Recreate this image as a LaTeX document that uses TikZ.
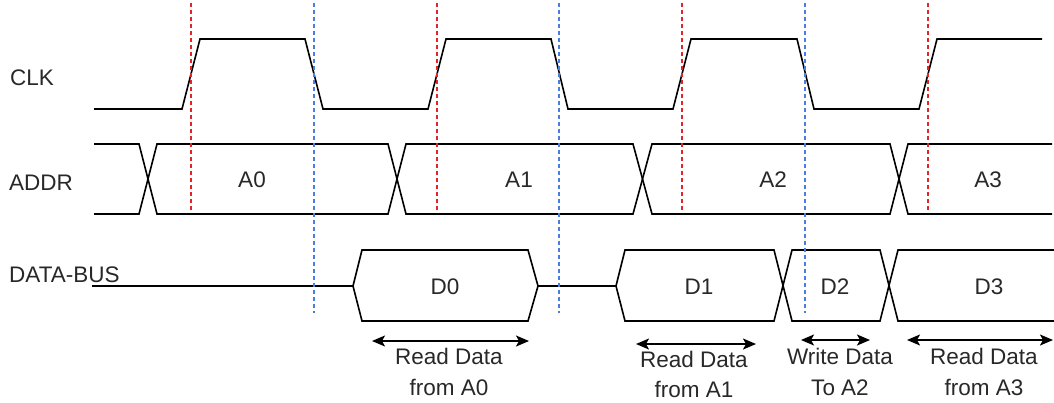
\documentclass[tikz,border=0pt]{standalone}
\usepackage{fontspec}
\setmainfont{Liberation Sans}
\usetikzlibrary{arrows.meta}
\definecolor{edgered}{RGB}{226,35,40}
\definecolor{edgeblue}{RGB}{75,125,225}
\definecolor{txtgray}{RGB}{40,40,40}
\begin{document}
\begin{tikzpicture}[x=1pt,y=-1pt,
  wave/.style={line width=1.6pt},
  redmark/.style={edgered,line width=1.4pt,dash pattern=on 4pt off 3pt},
  bluemark/.style={edgeblue,line width=1.4pt,dash pattern=on 4pt off 3pt},
  span/.style={{Stealth[length=13pt,width=11pt,inset=3pt]}-{Stealth[length=13pt,width=11pt,inset=3pt]},line width=1.7pt},
  lbl/.style={inner sep=0pt,text=txtgray,font=\fontsize{22.5}{30.5}\selectfont}]
\useasboundingbox (0,0) rectangle (1054,402);
\node[lbl,anchor=base west] (clk) at (10,85) {CLK};
\node[lbl,anchor=base west] (addr) at (9,190) {ADDR};
\node[lbl,anchor=base west] (bus) at (9,282) {DATA-BUS};
\draw[wave] (94,109) -- (182,109) -- (200,39) -- (305,39) -- (323,109) -- (428,109) -- (446,39) -- (551,39) -- (568,109) -- (673,109) -- (691,39) -- (797,39) -- (814,109) -- (919,109) -- (937,39) -- (1042,39);
\draw[wave] (94,144) -- (139,144) -- (157,214) -- (388,214) -- (406,144) -- (633,144) -- (652,214) -- (890,214) -- (908,144) -- (1052,144);
\draw[wave] (94,214) -- (139,214) -- (157,144) -- (388,144) -- (406,214) -- (633,214) -- (652,144) -- (890,144) -- (908,214) -- (1052,214);
\node[lbl] (a0) at (252,180) {A0};
\node[lbl] (a1) at (519,180) {A1};
\node[lbl] (a2) at (773,180) {A2};
\node[lbl] (a3) at (988,180) {A3};
\draw[wave] (92,286) -- (353,286) -- (362,250) -- (528,250) -- (538,286) -- (528,321) -- (362,321) -- (353,286);
\draw[wave] (538,286) -- (616,286) -- (625,250) -- (774,250) -- (792,321) -- (880,321) -- (898,250) -- (1054,250);
\draw[wave] (616,286) -- (625,321) -- (774,321) -- (792,250) -- (880,250) -- (898,321) -- (1054,321);
\node[lbl] (d0) at (445,286.5) {D0};
\node[lbl] (d1) at (699,286.5) {D1};
\node[lbl] (d2) at (835,286.5) {D2};
\node[lbl] (d3) at (989,286.5) {D3};
\draw[redmark] (191,3) -- (191,212);
\draw[redmark] (437,3) -- (437,212);
\draw[redmark] (682,3) -- (682,212);
\draw[redmark] (928,3) -- (928,212);
\draw[bluemark] (314,3) -- (314,313);
\draw[bluemark] (559,3) -- (559,313);
\draw[bluemark] (805,3) -- (805,313);
\coordinate (s0l) at (372,341);
\coordinate (s0r) at (529,341);
\coordinate (s1l) at (636,344);
\coordinate (s1r) at (756,344);
\coordinate (s2l) at (801,340);
\coordinate (s2r) at (870,340);
\coordinate (s3l) at (907,340);
\coordinate (s3r) at (1053,340);
\draw[span] (s0l) -- (s0r);
\draw[span] (s1l) -- (s1r);
\draw[span] (s2l) -- (s2r);
\draw[span] (s3l) -- (s3r);
\node[lbl,align=center,anchor=base] (rd0) at (449,395) {Read Data\\from A0};
\node[lbl,align=center,anchor=base] (rd1) at (694,397.5) {Read Data\\from A1};
\node[lbl,align=center,anchor=base] (wr2) at (840,395) {Write Data\\To A2};
\node[lbl,align=center,anchor=base] (rd3) at (984,395) {Read Data\\from A3};
\end{tikzpicture}
\end{document}
